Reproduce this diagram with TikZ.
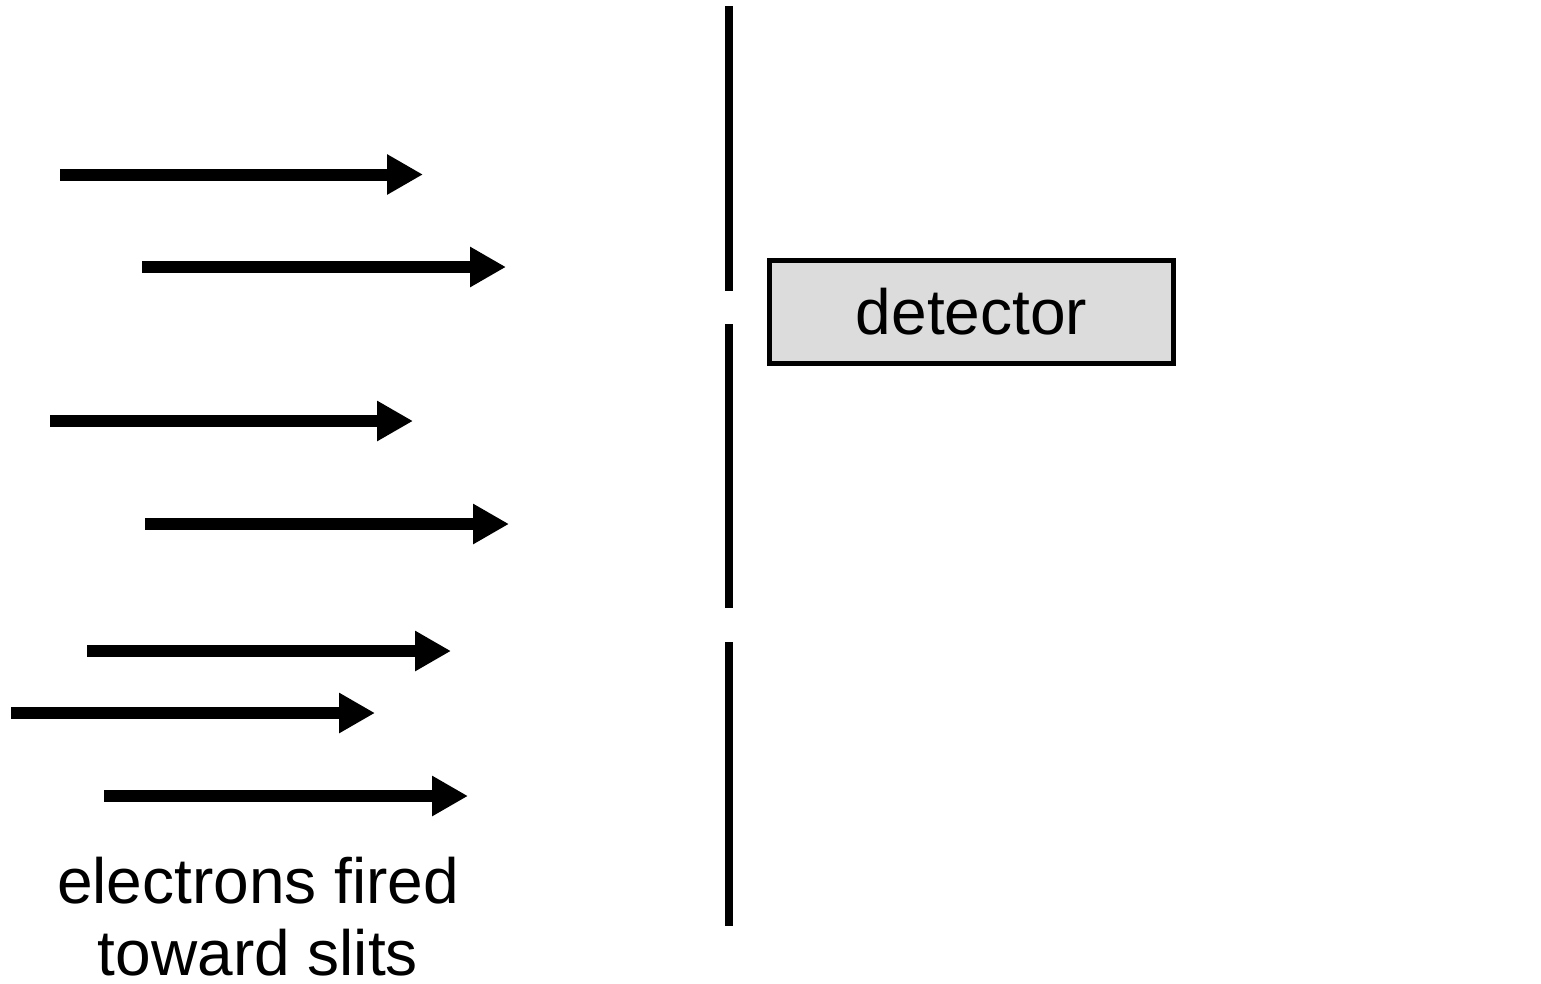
\documentclass[tikz,border=0pt]{standalone}
\usepackage{fontspec}
\setmainfont{Liberation Sans}
\usetikzlibrary{arrows.meta}
\definecolor{detgray}{HTML}{DCDCDC}
\tikzset{
  beam/.style={line width=12pt, -{Triangle[length=36pt,width=38pt]}},
  wall/.style={line width=8pt},
  bigtext/.style={font=\fontsize{64}{74}\selectfont, inner sep=0pt},
  detbox/.style={draw, line width=5pt, fill=detgray, minimum width=404pt,
    minimum height=103pt, inner sep=0pt, font=\fontsize{64}{74}\selectfont}
}
\begin{document}
\begin{tikzpicture}[x=1pt, y=-1pt]
  \useasboundingbox (0,0) rectangle (1541,983);
  % electron beams
  \draw[beam] (60,174.5)  -- (423,174.5);
  \draw[beam] (142,267) -- (506,267);
  \draw[beam] (50,421)  -- (413,421);
  \draw[beam] (145,524) -- (509,524);
  \draw[beam] (87,651)  -- (451,651);
  \draw[beam] (11,713)  -- (375,713);
  \draw[beam] (104,796) -- (468,796);
  % barrier with two slits
  \draw[wall] (729,6)   -- (729,291);
  \draw[wall] (729,324) -- (729,608);
  \draw[wall] (729,642) -- (729,926);
  % detector
  \node[detbox] (det) at (971.5,312) {detector};
  % caption
  \node[bigtext, anchor=base] (cap1) at (258,903) {electrons fired};
  \node[bigtext, anchor=base] (cap2) at (258,975) {toward slits};
\end{tikzpicture}
\end{document}
